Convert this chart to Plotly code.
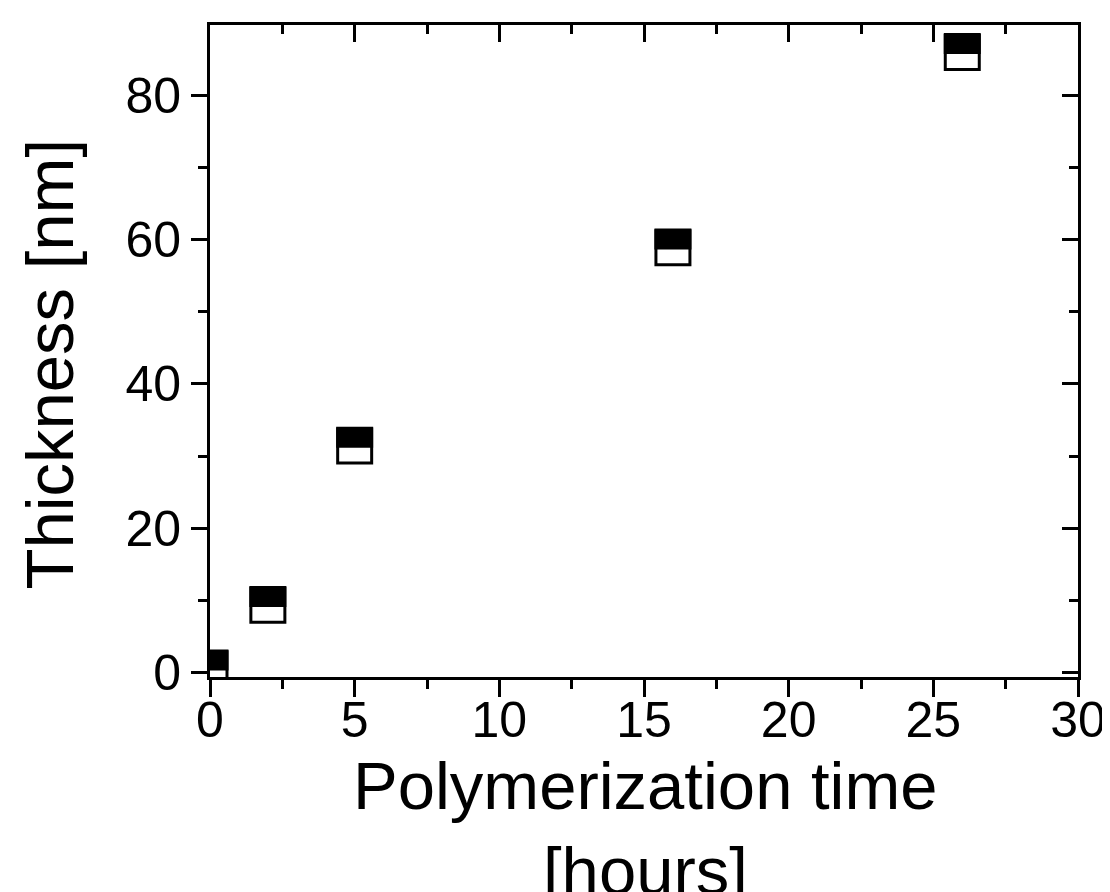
import plotly.graph_objects as go

# Data
time_hours = [0, 2, 5, 16, 26]
thickness_nm = [0.5, 9.3, 31.4, 58.9, 86.0]

x_ticks = [0, 5, 10, 15, 20, 25, 30]
y_ticks = [0, 20, 40, 60, 80]

x_range = [0, 30]
y_range = [-0.65, 89.8]

# style constants
FONT = "Liberation Sans, Arial, sans-serif"
W, H = 1110, 892
ML, MR, MT, MB = 202, 32, 17, 223
plot_w_px = W - ML - MR
plot_h_px = H - MT - MB
px_per_unit = plot_h_px / (y_range[1] - y_range[0])
fill_shift = 8.8 / px_per_unit  # shift of the filled top half in data units
y2_range = [y_range[0] - fill_shift, y_range[1] - fill_shift]


def py_to_paper(py):
    return (H - MB - py) / plot_h_px


def px_to_paper(px):
    return (px - ML) / plot_w_px


fig = go.Figure()

# filled top half of each marker (thick horizontal line symbol on shifted axis)
fig.add_trace(go.Scatter(
    x=time_hours, y=thickness_nm, mode="markers",
    xaxis="x", yaxis="y2",
    marker=dict(symbol="line-ew", size=26.4, color="black",
                line=dict(color="black", width=21)),
    showlegend=False, hoverinfo="skip"))

# open square outline
fig.add_trace(go.Scatter(
    x=time_hours, y=thickness_nm, mode="markers",
    xaxis="x", yaxis="y",
    marker=dict(symbol="square-open", size=34, color="black",
                line=dict(color="black", width=3)),
    showlegend=False))

# empty traces to activate mirror axes
fig.add_trace(go.Scatter(x=[], y=[], xaxis="x2", yaxis="y", showlegend=False))
fig.add_trace(go.Scatter(x=[], y=[], xaxis="x", yaxis="y3", showlegend=False))

axis_common = dict(showgrid=False, zeroline=False, showline=True,
                   linecolor="black", linewidth=3, tickcolor="black",
                   tickwidth=3)

fig.update_layout(
    width=W, height=H,
    margin=dict(l=ML, r=MR, t=MT, b=MB, pad=0),
    paper_bgcolor="white", plot_bgcolor="white",
    font=dict(family=FONT, color="black"),
    xaxis=dict(range=x_range, tickvals=x_ticks, ticks="outside", ticklen=17,
               tickfont=dict(size=50, family=FONT), side="bottom", anchor="y",
               ticklabelstandoff=-20,
               minor=dict(dtick=2.5, tick0=0, ticks="outside", ticklen=9,
                          tickwidth=3, tickcolor="black"),
               **axis_common),
    xaxis2=dict(range=x_range, tickvals=x_ticks, ticks="inside", ticklen=17,
                showticklabels=False, side="top", overlaying="x", anchor="y",
                minor=dict(dtick=2.5, tick0=0, ticks="inside", ticklen=9,
                           tickwidth=3, tickcolor="black"),
                **axis_common),
    yaxis=dict(range=y_range, tickvals=y_ticks, ticks="outside", ticklen=16,
               tickfont=dict(size=50, family=FONT), side="left", anchor="x",
               minor=dict(dtick=10, tick0=0, ticks="outside", ticklen=9,
                          tickwidth=3, tickcolor="black"),
               **axis_common),
    yaxis2=dict(range=y2_range, overlaying="y", anchor="x", visible=False),
    yaxis3=dict(range=y_range, tickvals=y_ticks, ticks="inside", ticklen=16,
                showticklabels=False, side="right", overlaying="y", anchor="x",
                minor=dict(dtick=10, tick0=0, ticks="inside", ticklen=9,
                           tickwidth=3, tickcolor="black"),
                **axis_common),
    annotations=[
        dict(text="Thickness [nm]", xref="paper", yref="paper",
             x=px_to_paper(40), y=py_to_paper(356), xanchor="center",
             yanchor="middle", textangle=-90, showarrow=False,
             font=dict(size=67, family=FONT, color="black")),
        dict(text="Polymerization time", xref="paper", yref="paper",
             x=px_to_paper(642), y=py_to_paper(777), xanchor="center",
             yanchor="middle", showarrow=False,
             font=dict(size=67, family=FONT, color="black")),
        dict(text="[hours]", xref="paper", yref="paper",
             x=px_to_paper(642), y=py_to_paper(862), xanchor="center",
             yanchor="middle", showarrow=False,
             font=dict(size=67, family=FONT, color="black")),
    ],
)

fig.write_html("out.html")
